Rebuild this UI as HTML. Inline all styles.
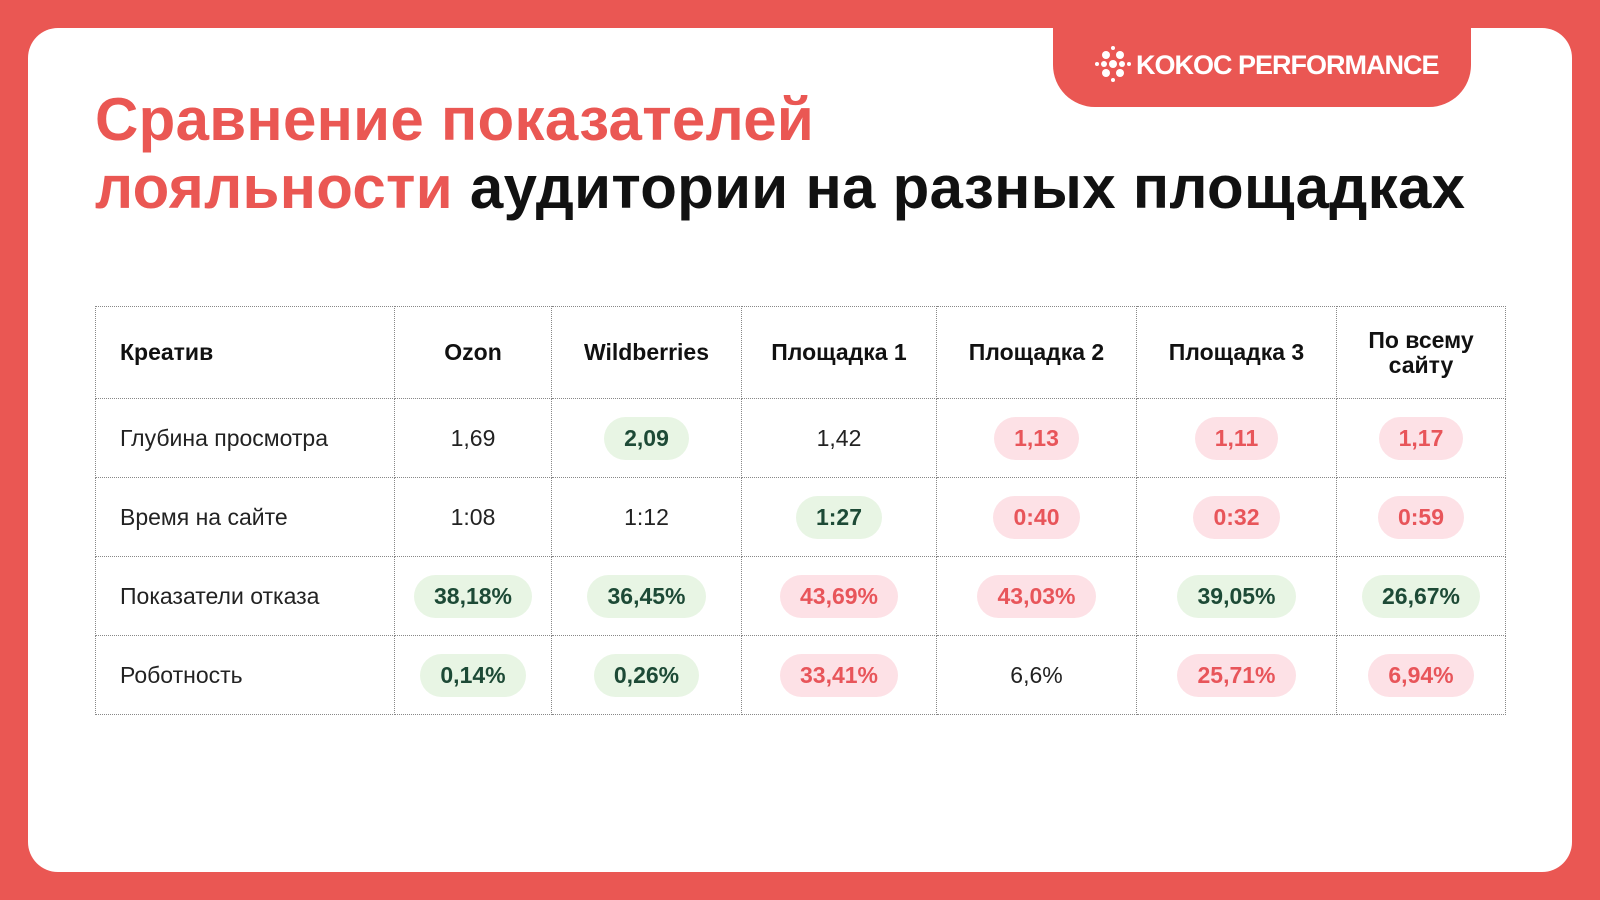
<!DOCTYPE html>
<html><head><meta charset="utf-8"><style>
*{margin:0;padding:0;box-sizing:border-box}
body{width:1600px;height:900px;background:#ea5753;position:relative;overflow:hidden;font-family:"Liberation Sans","DejaVu Sans",sans-serif}
.card{position:absolute;left:28px;top:28px;width:1544px;height:844px;background:#fff;border-radius:30px}
.tab{position:absolute;left:1053px;top:0;width:418px;height:107px;background:#ea5753;border-radius:0 0 42px 42px}
.logo{position:absolute;left:1094px;top:50px;color:#fff;font-weight:bold;font-size:27px;letter-spacing:-1px}
.title{position:absolute;left:95px;top:86px;font-weight:bold;font-size:60px;line-height:68px;color:#111;letter-spacing:0.3px}
.r{color:#ea5753}
table{position:absolute;left:95px;top:306px;border-collapse:collapse}
td{border:1.5px dotted #888;text-align:center;font-size:23px;color:#222;padding:0}
td:first-child{text-align:left;padding-left:24px}
tr.h td{font-weight:bold;height:92px;color:#111;line-height:25px}
tr.b td{height:79px}
.p{display:inline-block;padding:0 20px;height:43px;line-height:43px;border-radius:22px;font-weight:bold}
.g{background:#e8f5e4;color:#1d4a36}
.x{background:#fde1e6;color:#e8555a}
</style></head><body>
<div class="card"></div>
<div class="tab"></div>
<div class="logo"><svg width="38" height="38" viewBox="0 0 38 38" style="vertical-align:middle;margin-right:4px;margin-top:-6px"><g fill="#fff"><circle cx="19" cy="3" r="2"/><circle cx="19" cy="35" r="2"/><circle cx="3" cy="19" r="2"/><circle cx="35" cy="19" r="2"/><circle cx="12" cy="10" r="4"/><circle cx="26" cy="10" r="4"/><circle cx="12" cy="28" r="4"/><circle cx="26" cy="28" r="4"/><circle cx="19" cy="19" r="4"/><circle cx="10" cy="19" r="3"/><circle cx="28" cy="19" r="3"/></g></svg>KOKOC PERFORMANCE</div>
<div class="title"><span class="r">Сравнение показателей</span><br><span class="r">лояльности</span> аудитории на разных площадках</div>
<table>
<colgroup><col style="width:299px"><col style="width:157px"><col style="width:190px"><col style="width:195px"><col style="width:200px"><col style="width:200px"><col style="width:169px"></colgroup>
<tr class="h"><td>Креатив</td><td>Ozon</td><td>Wildberries</td><td>Площадка 1</td><td>Площадка 2</td><td>Площадка 3</td><td>По всему<br>сайту</td></tr>
<tr class="b"><td>Глубина просмотра</td><td>1,69</td><td><span class="p g">2,09</span></td><td>1,42</td><td><span class="p x">1,13</span></td><td><span class="p x">1,11</span></td><td><span class="p x">1,17</span></td></tr>
<tr class="b"><td>Время на сайте</td><td>1:08</td><td>1:12</td><td><span class="p g">1:27</span></td><td><span class="p x">0:40</span></td><td><span class="p x">0:32</span></td><td><span class="p x">0:59</span></td></tr>
<tr class="b"><td>Показатели отказа</td><td><span class="p g">38,18%</span></td><td><span class="p g">36,45%</span></td><td><span class="p x">43,69%</span></td><td><span class="p x">43,03%</span></td><td><span class="p g">39,05%</span></td><td><span class="p g">26,67%</span></td></tr>
<tr class="b"><td>Роботность</td><td><span class="p g">0,14%</span></td><td><span class="p g">0,26%</span></td><td><span class="p x">33,41%</span></td><td>6,6%</td><td><span class="p x">25,71%</span></td><td><span class="p x">6,94%</span></td></tr>
</table>
</body></html>
